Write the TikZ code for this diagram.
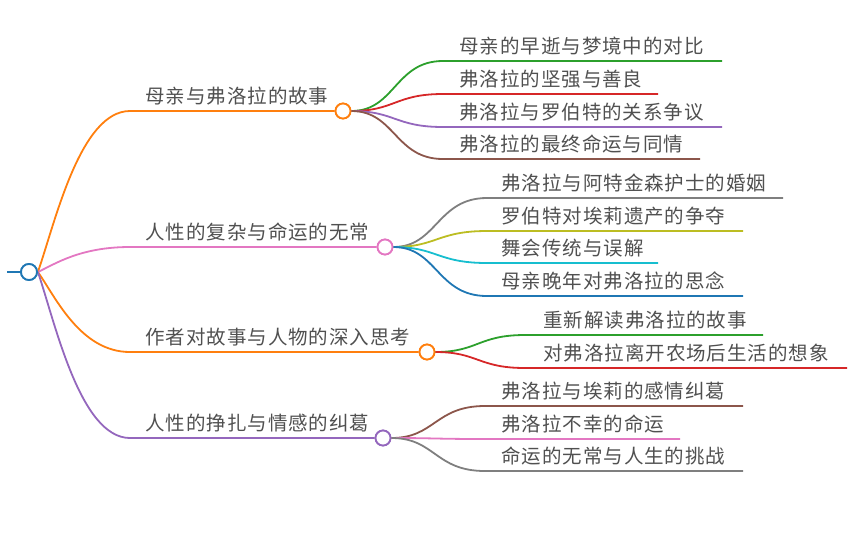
\documentclass[tikz,border=0pt]{standalone}
\usepackage{fontspec}
\newfontfamily\cjk[LetterSpace=5]{Noto Sans CJK SC}
\definecolor{cblue}{HTML}{1F77B4}
\definecolor{corange}{HTML}{FF7F0E}
\definecolor{cgreen}{HTML}{2CA02C}
\definecolor{cred}{HTML}{D62728}
\definecolor{cpurple}{HTML}{9467BD}
\definecolor{cbrown}{HTML}{8C564B}
\definecolor{cpink}{HTML}{E377C2}
\definecolor{cgray}{HTML}{7F7F7F}
\definecolor{colive}{HTML}{BCBD22}
\definecolor{ccyan}{HTML}{17BECF}
\definecolor{ctext}{HTML}{505050}
\begin{document}
\begin{tikzpicture}[x=1pt,y=-1pt,
  lbl/.style={anchor=base west,inner sep=0pt,font=\cjk\fontsize{19.5}{22}\selectfont,text=ctext},
  conn/.style={line width=1.8pt},
  knob/.style={circle,draw,line width=1.8pt,fill=white,minimum size=15pt,inner sep=0pt}]
\useasboundingbox (0,0) rectangle (861,539);
% root
\node[knob,draw=cblue,minimum size=16pt] (root) at (29,272) {};
\coordinate (rootl) at (7,272);

% level-1 nodes
\node[knob,draw=corange] (b1) at (343,111) {};
\node[knob,draw=cpink] (b2) at (385,247) {};
\node[knob,draw=corange] (b3) at (427,352) {};
\node[knob,draw=cpurple] (b4) at (383,438) {};
\coordinate (b1s) at (130,111);
\coordinate (b2s) at (130,247);
\coordinate (b3s) at (130,352);
\coordinate (b4s) at (130,438);

\node[lbl] (t1) at (145,103) {母亲与弗洛拉的故事};
\node[lbl] (t2) at (145,239) {人性的复杂与命运的无常};
\node[lbl] (t3) at (145,344) {作者对故事与人物的深入思考};
\node[lbl] (t4) at (145,430) {人性的挣扎与情感的纠葛};

\draw[conn,cblue] (rootl) -- (root.west);
\draw[conn,corange] (root.east) .. controls (55,223) and (80,111) .. (b1s) -- (b1.west);
\draw[conn,cpink] (root.east) .. controls (55,264) and (80,247) .. (b2s) -- (b2.west);
\draw[conn,corange] (root.east) .. controls (55,296) and (80,352) .. (b3s) -- (b3.west);
\draw[conn,cpurple] (root.east) .. controls (55,322) and (80,438) .. (b4s) -- (b4.west);

% branch 1 children
\coordinate (c11s) at (443,61); \coordinate (c11e) at (722,61);
\coordinate (c12s) at (443,94); \coordinate (c12e) at (658,94);
\coordinate (c13s) at (443,127); \coordinate (c13e) at (722,127);
\coordinate (c14s) at (443,159); \coordinate (c14e) at (700,159);
\draw[conn,cgreen] (b1.east) .. controls (395,111) and (395,61) .. (c11s) -- (c11e);
\draw[conn,cred] (b1.east) .. controls (395,111) and (395,94) .. (c12s) -- (c12e);
\draw[conn,cpurple] (b1.east) .. controls (395,111) and (395,127) .. (c13s) -- (c13e);
\draw[conn,cbrown] (b1.east) .. controls (395,111) and (395,159) .. (c14s) -- (c14e);
\node[lbl] (l11) at (459,53) {母亲的早逝与梦境中的对比};
\node[lbl] (l12) at (459,86) {弗洛拉的坚强与善良};
\node[lbl] (l13) at (459,119) {弗洛拉与罗伯特的关系争议};
\node[lbl] (l14) at (459,151) {弗洛拉的最终命运与同情};

% branch 2 children
\coordinate (c21s) at (487,198); \coordinate (c21e) at (783,198);
\coordinate (c22s) at (487,231); \coordinate (c22e) at (743,231);
\coordinate (c23s) at (487,263); \coordinate (c23e) at (658,263);
\coordinate (c24s) at (487,296); \coordinate (c24e) at (743,296);
\draw[conn,cgray] (b2.east) .. controls (437,247) and (437,198) .. (c21s) -- (c21e);
\draw[conn,colive] (b2.east) .. controls (437,247) and (437,231) .. (c22s) -- (c22e);
\draw[conn,ccyan] (b2.east) .. controls (437,247) and (437,263) .. (c23s) -- (c23e);
\draw[conn,cblue] (b2.east) .. controls (437,247) and (437,296) .. (c24s) -- (c24e);
\node[lbl] (l21) at (501,190) {弗洛拉与阿特金森护士的婚姻};
\node[lbl] (l22) at (501,223) {罗伯特对埃莉遗产的争夺};
\node[lbl] (l23) at (501,255) {舞会传统与误解};
\node[lbl] (l24) at (501,288) {母亲晚年对弗洛拉的思念};

% branch 3 children
\coordinate (c31s) at (525,335); \coordinate (c31e) at (763,335);
\coordinate (c32s) at (525,368); \coordinate (c32e) at (847,368);
\draw[conn,cgreen] (b3.east) .. controls (478,352) and (478,335) .. (c31s) -- (c31e);
\draw[conn,cred] (b3.east) .. controls (478,352) and (478,368) .. (c32s) -- (c32e);
\node[lbl] (l31) at (543,327) {重新解读弗洛拉的故事};
\node[lbl] (l32) at (543,360) {对弗洛拉离开农场后生活的想象};

% branch 4 children
\coordinate (c41s) at (485,406); \coordinate (c41e) at (743,406);
\coordinate (c42s) at (485,439); \coordinate (c42e) at (680,439);
\coordinate (c43s) at (485,471); \coordinate (c43e) at (743,471);
\draw[conn,cbrown] (b4.east) .. controls (435,438) and (435,406) .. (c41s) -- (c41e);
\draw[conn,cpink] (b4.east) .. controls (435,438) and (435,439) .. (c42s) -- (c42e);
\draw[conn,cgray] (b4.east) .. controls (435,438) and (435,471) .. (c43s) -- (c43e);
\node[lbl] (l41) at (501,398) {弗洛拉与埃莉的感情纠葛};
\node[lbl] (l42) at (501,431) {弗洛拉不幸的命运};
\node[lbl] (l43) at (501,463) {命运的无常与人生的挑战};

% knobs on top of the lines
\node[knob,draw=cblue,minimum size=16pt] at (root) {};
\node[knob,draw=corange] at (b1) {};
\node[knob,draw=cpink] at (b2) {};
\node[knob,draw=corange] at (b3) {};
\node[knob,draw=cpurple] at (b4) {};
\end{tikzpicture}
\end{document}
